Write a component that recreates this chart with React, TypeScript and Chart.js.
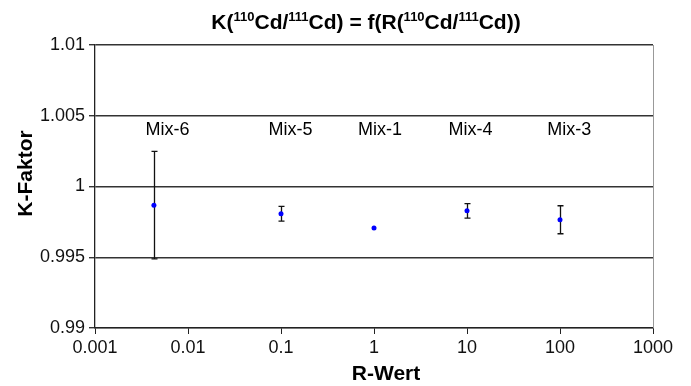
import React, { useEffect, useRef } from "react";
import { Chart, registerables } from "chart.js";

Chart.register(...registerables);

const mixNames = ["Mix-6", "Mix-5", "Mix-1", "Mix-4", "Mix-3"];
const rValues = [0.0043, 0.1, 1, 10, 100];
const kValues = [0.99868, 0.99807, 0.99706, 0.99828, 0.99765];
const kErrors = [0.0038, 0.00052, 0, 0.00051, 0.00099];
const labelX = [0.00603, 0.1265, 1.16, 10.9, 126];
const labelY = 1.004;
const xTickValues = [0.001, 0.01, 0.1, 1, 10, 100, 1000];
const xTickLabels = ["0.001", "0.01", "0.1", "1", "10", "100", "1000"];
const yTickValues = [0.99, 0.995, 1, 1.005, 1.01];
const yTickLabels = ["0.99", "0.995", "1", "1.005", "1.01"];
const titleParts: [string, boolean][] = [
  ["K(", false], ["110", true], ["Cd/", false], ["111", true],
  ["Cd) = f(R(", false], ["110", true], ["Cd/", false], ["111", true], ["Cd))", false],
];
const xTitle = "R-Wert";
const yTitle = "K-Faktor";

const FF = "'Liberation Sans', Arial, sans-serif";

export default function App() {
  const ref = useRef<HTMLCanvasElement | null>(null);
  useEffect(() => {
    document.body.style.margin = "0";
    const canvas = ref.current!;
    const deco = {
      id: "deco",
      beforeDatasetsDraw(chart: any) {
        const ctx = chart.ctx;
        const xs = chart.scales.x, ys = chart.scales.y;
        ctx.save();
        ctx.strokeStyle = "#111";
        ctx.lineWidth = 1.3;
        rValues.forEach((r, i) => {
          const e = kErrors[i];
          if (!e) return;
          const px = Math.round(xs.getPixelForValue(r)) + 0.5;
          const t = ys.getPixelForValue(kValues[i] + e);
          const b = ys.getPixelForValue(kValues[i] - e);
          ctx.beginPath();
          ctx.moveTo(px, t); ctx.lineTo(px, b);
          ctx.moveTo(px - 3, t); ctx.lineTo(px + 3, t);
          ctx.moveTo(px - 3, b); ctx.lineTo(px + 3, b);
          ctx.stroke();
        });
        ctx.restore();
      },
      afterDraw(chart: any) {
        const ctx = chart.ctx;
        const xs = chart.scales.x, ys = chart.scales.y;
        const ca = chart.chartArea;
        ctx.save();
        // right border
        ctx.strokeStyle = "#999";
        ctx.lineWidth = 1;
        ctx.beginPath();
        ctx.moveTo(Math.round(ca.right) + 0.5, ca.top);
        ctx.lineTo(Math.round(ca.right) + 0.5, ca.bottom);
        ctx.stroke();
        // mix labels
        ctx.fillStyle = "#000";
        ctx.font = `18px ${FF}`;
        ctx.textAlign = "center";
        ctx.textBaseline = "middle";
        mixNames.forEach((n, i) => {
          ctx.fillText(n, xs.getPixelForValue(labelX[i]), ys.getPixelForValue(labelY));
        });
        // title
        const mainF = `bold 21px ${FF}`;
        const supF = `bold 13px ${FF}`;
        let w = 0;
        titleParts.forEach(([t, s]) => {
          ctx.font = s ? supF : mainF;
          w += ctx.measureText(t).width;
        });
        let x = 366 - w / 2;
        ctx.textAlign = "left";
        ctx.textBaseline = "alphabetic";
        titleParts.forEach(([t, s]) => {
          ctx.font = s ? supF : mainF;
          ctx.fillText(t, x, s ? 21 : 29);
          x += ctx.measureText(t).width;
        });
        // axis titles
        ctx.font = `bold 21px ${FF}`;
        ctx.textAlign = "center";
        ctx.textBaseline = "middle";
        ctx.fillText(xTitle, 386, 374);
        ctx.translate(26, 173.5);
        ctx.rotate(-Math.PI / 2);
        ctx.fillText(yTitle, 0, 0);
        ctx.restore();
      },
    };
    const chart = new Chart(canvas, {
      type: "scatter",
      data: {
        datasets: [
          {
            data: rValues.map((x, i) => ({ x, y: kValues[i] })),
            backgroundColor: "#0000ff",
            borderColor: "#0000ff",
            pointRadius: 2.5,
            pointBorderWidth: 0,
          },
        ],
      },
      options: {
        responsive: false,
        animation: false,
        devicePixelRatio: 1,
        layout: { padding: { left: 0, right: 38, top: 45, bottom: 0 } },
        plugins: { legend: { display: false }, tooltip: { enabled: false }, title: { display: false } },
        scales: {
          x: {
            type: "logarithmic",
            min: 0.001,
            max: 1000,
            afterBuildTicks: (s: any) => {
              s.ticks = xTickValues.map((v) => ({ value: v }));
            },
            afterFit: (s: any) => {
              s.height = 58;
            },
            ticks: {
              autoSkip: false,
              maxRotation: 0,
              color: "#111",
              font: { family: FF, size: 18 },
              padding: 3,
              callback: (_v: any, i: number) => xTickLabels[i],
            },
            grid: { drawOnChartArea: false, drawTicks: true, tickLength: 6, color: "#222" },
            border: { color: "#222", width: 1.3 },
          },
          y: {
            type: "linear",
            min: 0.99,
            max: 1.01,
            afterBuildTicks: (s: any) => {
              s.ticks = yTickValues.map((v) => ({ value: v }));
            },
            afterFit: (s: any) => {
              s.width = 95;
            },
            ticks: {
              autoSkip: false,
              color: "#111",
              font: { family: FF, size: 18 },
              padding: 4,
              callback: (_v: any, i: number) => yTickLabels[i],
            },
            grid: { color: "#333", lineWidth: 1.4, tickLength: 6 },
            border: { color: "#222", width: 1.3 },
          },
        },
      },
      plugins: [deco],
    });
    return () => chart.destroy();
  }, []);
  return <canvas ref={ref} width={691} height={386} style={{ display: "block" }} />;
}
